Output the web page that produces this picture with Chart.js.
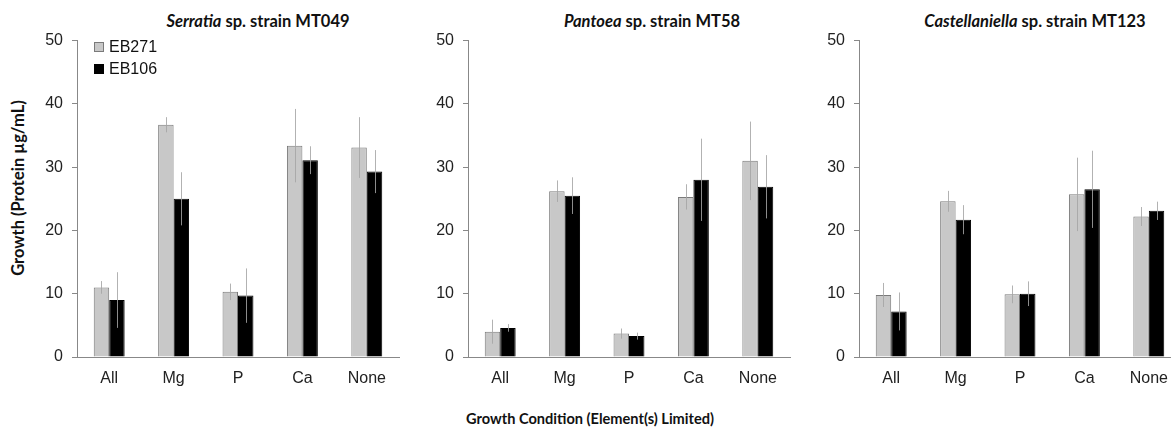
<!DOCTYPE html>
<html lang="en">
<head>
    <meta charset="UTF-8">
    <title>Growth by limiting element</title>
    <script src="https://cdn.jsdelivr.net/npm/chart.js"></script>
    <style>
        html, body { margin: 0; padding: 0; background: #fff; overflow: hidden; }
        body { width: 1171px; height: 429px; position: relative; }
        .panel { position: absolute; top: 22px; height: 365px; }
        .panel canvas { display: block; }
        .title {
            position: absolute; top: 11px; transform: translateX(-50%);
            font: bold 16.5px Lato, sans-serif; color: #111; white-space: nowrap;
        }
        .ytitle {
            position: absolute; left: 18px; top: 188px;
            transform: translate(-50%, -50%) rotate(-90deg);
            font: bold 16.5px Lato, sans-serif; color: #111; white-space: nowrap;
        }
        .xtitle {
            position: absolute; left: 590px; top: 410px; transform: translateX(-50%);
            font: bold 14.6px Lato, sans-serif; color: #111; white-space: nowrap;
        }
        .legend { position: absolute; left: 94px; top: 36px; font: 16px "Liberation Sans", Arial, sans-serif; color: #111; }
        .legend div { height: 22px; line-height: 22px; }
        .legend span { display: inline-block; width: 8px; height: 8px; margin-right: 5px; vertical-align: 0px; }
    </style>
</head>
<body>
    <div class="title" style="left:258px"><i>Serratia</i> sp. strain MT049</div>
    <div class="title" style="left:652px"><i>Pantoea</i> sp. strain MT58</div>
    <div class="title" style="left:1035px"><i>Castellaniella</i> sp. strain MT123</div>
    <div class="ytitle">Growth (Protein µg/mL)</div>
    <div class="xtitle">Growth Condition (Element(s) Limited)</div>

    <div class="panel" style="left:37px; width:364px"><canvas id="serratiaChart"></canvas></div>
    <div class="panel" style="left:428px; width:364px"><canvas id="pantoeaChart"></canvas></div>
    <div class="panel" style="left:819px; width:364px"><canvas id="castellaniellaChart"></canvas></div>

    <div class="legend">
        <div><span style="background:#c8c8c8; border:1px solid #7a7a7a"></span>EB271</div>
        <div><span style="background:#000; border:1px solid #000"></span>EB106</div>
    </div>

    <script>
        const categories = ['All', 'Mg', 'P', 'Ca', 'None'];

        const serratiaEB271 = [11.0, 36.7, 10.3, 33.4, 33.1];
        const serratiaEB271Err = [1.0, 1.2, 1.3, 5.8, 4.8];
        const serratiaEB106 = [9.0, 25.0, 9.7, 31.1, 29.3];
        const serratiaEB106Err = [4.4, 4.2, 4.3, 2.2, 3.4];

        const pantoeaEB271 = [4.0, 26.2, 3.7, 25.3, 31.0];
        const pantoeaEB271Err = [1.9, 1.7, 0.8, 2.0, 6.2];
        const pantoeaEB106 = [4.6, 25.5, 3.3, 28.0, 26.9];
        const pantoeaEB106Err = [0.6, 2.9, 0.55, 6.5, 5.0];

        const castellaniellaEB271 = [9.8, 24.6, 9.9, 25.7, 22.2];
        const castellaniellaEB271Err = [1.9, 1.65, 1.4, 5.8, 1.5];
        const castellaniellaEB106 = [7.2, 21.7, 10.0, 26.5, 23.1];
        const castellaniellaEB106Err = [3.0, 2.3, 1.95, 6.1, 1.45];

        const yTicks = [0, 10, 20, 30, 40, 50];

        // thin grey error lines through the middle of each bar
        const errorBars = {
            id: 'errorBars',
            afterDatasetsDraw(chart) {
                const ctx = chart.ctx;
                const y = chart.scales.y;
                ctx.save();
                ctx.strokeStyle = 'rgba(165,165,165,0.85)';
                ctx.lineWidth = 1;
                chart.data.datasets.forEach((ds, i) => {
                    chart.getDatasetMeta(i).data.forEach((bar, j) => {
                        const v = ds.data[j], e = ds.errors[j];
                        const x = Math.round(bar.x) + 0.5;
                        ctx.beginPath();
                        ctx.moveTo(x, y.getPixelForValue(v + e));
                        ctx.lineTo(x, y.getPixelForValue(v - e));
                        ctx.stroke();
                    });
                });
                ctx.restore();
            }
        };

        const tickFont = { family: '"Liberation Sans", Arial, sans-serif', size: 16 };

        function makePanel(id, grey, greyErr, black, blackErr) {
            new Chart(document.getElementById(id), {
                type: 'bar',
                data: {
                    labels: categories,
                    datasets: [
                        { label: 'EB271', data: grey, errors: greyErr, backgroundColor: '#c8c8c8', borderColor: '#7a7a7a', borderWidth: 1 },
                        { label: 'EB106', data: black, errors: blackErr, backgroundColor: '#000', borderColor: '#000', borderWidth: 1 }
                    ]
                },
                options: {
                    responsive: true,
                    maintainAspectRatio: false,
                    animation: false,
                    categoryPercentage: 0.48,
                    barPercentage: 1.0,
                    layout: { padding: { top: 15, right: 2, left: 0, bottom: 0 } },
                    plugins: { legend: { display: false }, tooltip: { enabled: false } },
                    scales: {
                        x: {
                            grid: { display: false },
                            border: { display: true, color: '#888', width: 1 },
                            ticks: { color: '#222', font: tickFont, padding: 4, maxRotation: 0 },
                            afterFit(scale) { scale.height = 30; }
                        },
                        y: {
                            min: 0, max: 50,
                            afterBuildTicks(scale) { scale.ticks = yTicks.map(v => ({ value: v })); },
                            grid: { drawOnChartArea: false, drawTicks: true, tickLength: 5, color: '#888' },
                            border: { display: true, color: '#888', width: 1 },
                            ticks: { color: '#222', font: tickFont, padding: 9 },
                            afterFit(scale) { scale.width = 40; }
                        }
                    }
                },
                plugins: [errorBars]
            });
        }

        makePanel('serratiaChart', serratiaEB271, serratiaEB271Err, serratiaEB106, serratiaEB106Err);
        makePanel('pantoeaChart', pantoeaEB271, pantoeaEB271Err, pantoeaEB106, pantoeaEB106Err);
        makePanel('castellaniellaChart', castellaniellaEB271, castellaniellaEB271Err, castellaniellaEB106, castellaniellaEB106Err);
    </script>
</body>
</html>
